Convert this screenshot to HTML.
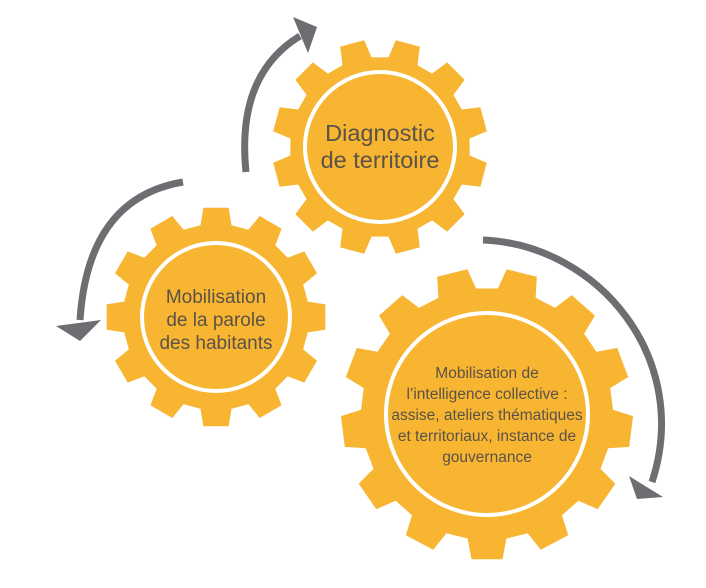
<!DOCTYPE html>
<html><head><meta charset="utf-8"><style>
html,body{margin:0;padding:0;background:#fff;}
svg{display:block;}
text{font-family:"Liberation Sans",sans-serif;fill:#5b5249;text-anchor:middle;}
</style></head><body>
<svg id="s" width="706" height="588" viewBox="0 0 706 588" xmlns="http://www.w3.org/2000/svg">
<g id="gears"></g>
<g fill="none" stroke="#6d6e71" stroke-width="7">
<path d="M246,172 Q236,75 300,36"/>
<path d="M183,182 Q88,198 80,320"/>
<path d="M483,240 C600,245 692,360 652,482"/>
</g>
<g fill="#6d6e71">
<polygon points="293,17 317,27 308,53"/>
<polygon points="56,326 101,320 80,341"/>
<polygon points="629,476 663,497 637,499"/>
</g>
<text x="380" y="141" font-size="23.5">Diagnostic</text>
<text x="380" y="168" font-size="23.5">de territoire</text>
<text x="216" y="303" font-size="19">Mobilisation</text>
<text x="216" y="326" font-size="19">de la parole</text>
<text x="216" y="349" font-size="19">des habitants</text>
<text x="487" y="378" font-size="15.5">Mobilisation de</text>
<text x="487" y="399" font-size="15.5">l’intelligence collective :</text>
<text x="487" y="420" font-size="15.5">assise, ateliers thématiques</text>
<text x="487" y="441" font-size="15.5">et territoriaux, instance de</text>
<text x="487" y="462" font-size="15.5">gouvernance</text>
</svg>
<script>
function gear(cx,cy,R,r,n,ir,off){
  var p=[],step=2*Math.PI/n;
  for(var i=0;i<n;i++){
    var a=i*step+off;
    var pts=[[a-step*0.32,r],[a-step*0.22,R],[a+step*0.22,R],[a+step*0.32,r]];
    pts.forEach(function(q){p.push((cx+q[1]*Math.cos(q[0])).toFixed(1)+','+(cy+q[1]*Math.sin(q[0])).toFixed(1));});
  }
  return '<polygon fill="#f7b531" points="'+p.join(' ')+'"/>'+
    '<circle cx="'+cx+'" cy="'+cy+'" r="'+ir+'" fill="#f7b531" stroke="#fff" stroke-width="4"/>';
}
var h=Math.PI/2;
document.getElementById('gears').innerHTML=
  gear(380,147,108,90,12,75,-h+Math.PI/12)+
  gear(216,317,110,93,12,74,-h)+
  gear(487,414,146,126,13,101,-h+Math.PI/13);
</script>
</body></html>
